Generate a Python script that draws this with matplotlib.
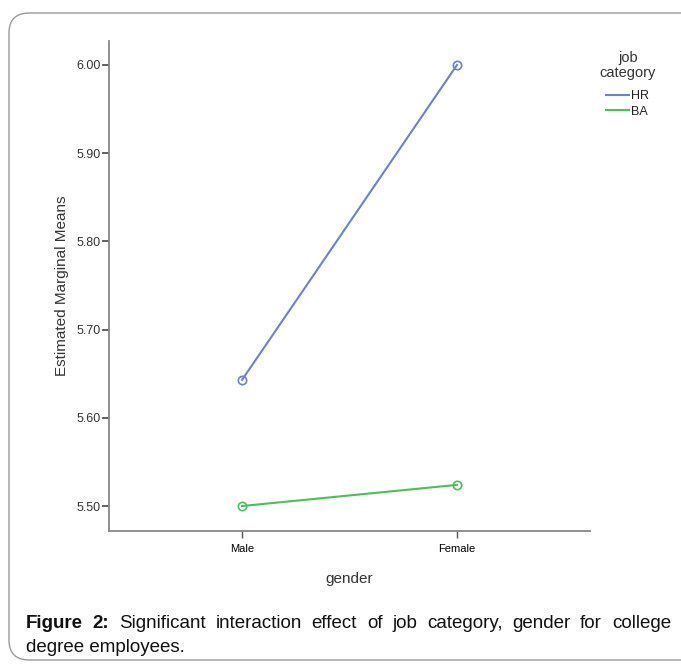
import matplotlib
matplotlib.use("Agg")
import matplotlib.pyplot as plt
from matplotlib.patches import FancyBboxPatch

plt.rcParams['font.family'] = ['Liberation Sans', 'DejaVu Sans']

genders = ["Male", "Female"]
hr_means = [5.643, 6.00]
ba_means = [5.50, 5.524]
yticks = [5.50, 5.60, 5.70, 5.80, 5.90, 6.00]

W, H = 681, 664
fig = plt.figure(figsize=(W / 100, H / 100), dpi=100)

# rounded frame around the figure panel
frame = FancyBboxPatch((9 / W, 4 / H), (W + 20) / W, (H - 17) / H,
                       boxstyle="round,pad=0,rounding_size=0.03",
                       transform=fig.transFigure, facecolor="none",
                       edgecolor="#9a9a9a", linewidth=1.0)
fig.add_artist(frame)

ax = fig.add_axes([109 / W, 1 - 531 / H, (590 - 109) / W, (531 - 41) / H])
x = range(len(genders))
ax.plot(x, hr_means, color="#6e81cb", lw=1.5, marker="o", ms=6,
        mfc="none", mec="#6e81cb", mew=1.2, label="HR")
ax.plot(x, ba_means, color="#4bc157", lw=1.5, marker="o", ms=6,
        mfc="none", mec="#4bc157", mew=1.2, label="BA")

ax.set_xlim(-0.619, 1.619)
ax.set_ylim(5.4717, 6.0272)
ax.set_xticks(list(x))
ax.set_xticklabels(genders, fontsize=8)
ax.set_yticks(yticks)
ax.set_yticklabels([f"{v:.2f}" for v in yticks], fontsize=9, color="#333333")
for s in ["top", "right"]:
    ax.spines[s].set_visible(False)
for s in ["left", "bottom"]:
    ax.spines[s].set_color("#888888")
    ax.spines[s].set_linewidth(1.3)
ax.tick_params(axis="y", length=5, width=1.3, color="#555555", pad=1)
ax.tick_params(axis="x", length=5, width=1.0, color="#555555", pad=4)
ax.set_ylabel("Estimated Marginal Means", fontsize=11, color="#333333", labelpad=5)
ax.set_xlabel("gender", fontsize=11, color="#333333", labelpad=13)

# legend title drawn separately so it sits centred above the entries
fig.text(628 / W, 1 - 51 / H, "job\ncategory", fontsize=10.5, color="#333333",
         ha="center", va="top", linespacing=1.05)
leg = ax.legend(loc="upper left",
                bbox_to_anchor=(606 / W, 1 - 90 / H), bbox_transform=fig.transFigure,
                frameon=False, fontsize=9, handlelength=1.8,
                handletextpad=0.2, labelspacing=0.3, borderpad=0, borderaxespad=0)
for line in leg.get_lines():
    line.set_marker("")
    line.set_linewidth(1.5)
for t in leg.get_texts():
    t.set_color("#222222")

# justified caption
fig.canvas.draw()
renderer = fig.canvas.get_renderer()
left_px, right_px = 26, 671
words = [("Figure", "bold"), ("2:", "bold")] + [(w, "normal") for w in
         "Significant interaction effect of job category, gender for college".split()]
texts = []
total = 0
for w, wt in words:
    t = fig.text(0, 1 - 628 / H, w, fontsize=13.5, fontweight=wt, color="#111111")
    bb = t.get_window_extent(renderer)
    texts.append((t, bb.width))
    total += bb.width
gap = (right_px - left_px - total) / (len(words) - 1)
xpos = left_px
for t, wdt in texts:
    t.set_x(xpos / W)
    xpos += wdt + gap
fig.text(left_px / W, 1 - 652 / H, "degree employees.", fontsize=13.5, color="#111111")

fig.savefig("out.png", dpi=100)
